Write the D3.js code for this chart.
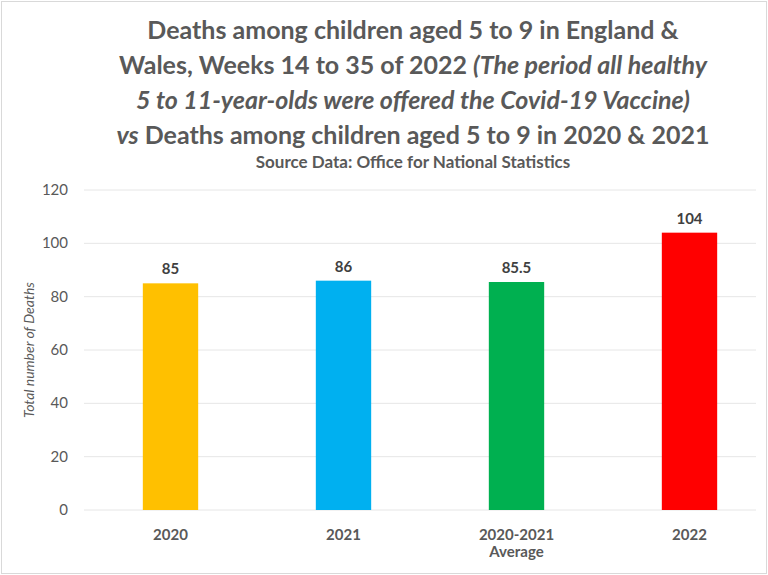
<!DOCTYPE html>
<html><head><meta charset="utf-8">
<script src="https://cdn.jsdelivr.net/npm/d3@7"></script>
<style>body{margin:0;background:#fff}text{font-family:Lato,"Open Sans",sans-serif}</style>
</head><body><svg id="c" width="768" height="575"></svg>
<script>
const categories=["2020","2021","2020-2021|Average","2022"];
const values=[85,86,85.5,104];
const colors=["#FFC000","#00B0F0","#00B050","#FF0000"];
const yTicks=[0,20,40,60,80,100,120];
const titleLines=[
 [["Deaths among children aged 5 to 9 in England &",""]],
 [["Wales, Weeks 14 to 35 of 2022 ",""],["(The period all healthy","italic"]],
 [["5 to 11-year-olds were offered the Covid-19 Vaccine)","italic"]],
 [["vs","italic"],[" Deaths among children aged 5 to 9 in 2020 & 2021",""]]
];
const svg=d3.select("#c");
svg.append("rect").attr("x",1.5).attr("y",1.5).attr("width",765).attr("height",572).attr("fill","#fff").attr("stroke","#d9d9d9");
const x=d3.scaleBand().domain(categories).range([84,776]).paddingInner(0.68).paddingOuter(0.34);
const y=d3.scaleLinear().domain([0,120]).range([510,190]);
svg.append("g").selectAll("line").data(yTicks).join("line")
 .attr("x1",84).attr("x2",756).attr("y1",d=>y(d)).attr("y2",d=>y(d)).attr("stroke","#e6e6e6");
svg.append("g").selectAll("text").data(yTicks).join("text")
 .attr("x",68).attr("y",d=>y(d)+5).attr("text-anchor","end").attr("font-size",15).attr("fill","#595959").text(d=>d);
svg.append("g").selectAll("rect").data(categories).join("rect")
 .attr("x",d=>x(d)).attr("width",x.bandwidth()).attr("y",(d,i)=>y(values[i])).attr("height",(d,i)=>y(0)-y(values[i])).attr("fill",(d,i)=>colors[i]);
svg.append("g").selectAll("text").data(categories).join("text")
 .attr("x",d=>x(d)+x.bandwidth()/2).attr("y",(d,i)=>y(values[i])-9).attr("text-anchor","middle").attr("font-size",15).attr("font-weight","bold").attr("fill","#404040").text((d,i)=>values[i]);
categories.forEach(c=>{
 c.split("|").forEach((p,j)=>svg.append("text").attr("x",x(c)+x.bandwidth()/2).attr("y",540+j*17).attr("text-anchor","middle").attr("font-size",15).attr("font-weight","bold").attr("fill","#595959").text(p));
});
svg.append("text").attr("transform","translate(34,350) rotate(-90)").attr("text-anchor","middle").attr("font-size",14).attr("font-style","italic").attr("fill","#595959").text("Total number of Deaths");
titleLines.forEach((ln,i)=>{
 const t=svg.append("text").attr("x",413).attr("y",39+i*35).attr("text-anchor","middle").attr("font-size",25).attr("font-weight","bold").attr("fill","#595959");
 ln.forEach(([s,st])=>t.append("tspan").attr("font-style",st||null).text(s));
});
svg.append("text").attr("x",413).attr("y",168).attr("text-anchor","middle").attr("font-size",17).attr("font-weight","bold").attr("fill","#595959").text("Source Data: Office for National Statistics");
</script></body></html>
